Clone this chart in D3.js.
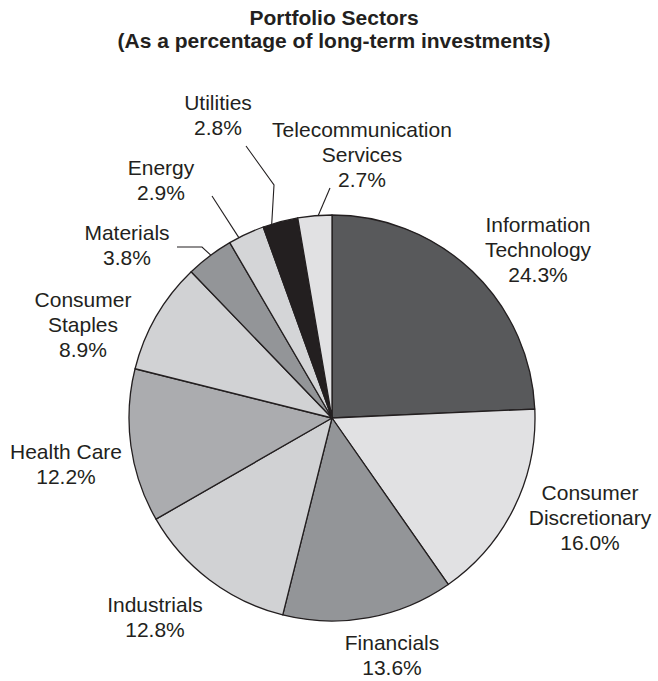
<!DOCTYPE html>
<html>
<head>
<meta charset="utf-8">
<script src="https://cdn.jsdelivr.net/npm/d3@7"></script>
<style>
  html, body { margin: 0; padding: 0; background: #fff; }
  svg { display: block; }
  text { font-family: "Liberation Sans", Arial, Helvetica, sans-serif; fill: #231f20; }
</style>
</head>
<body>
<svg id="chart" width="658" height="681"></svg>
<script>
// ---- Data ----
const sectors = ["Information Technology", "Consumer Discretionary", "Financials", "Industrials",
  "Health Care", "Consumer Staples", "Materials", "Energy", "Utilities", "Telecommunication Services"];
const percentages = [24.3, 16.0, 13.6, 12.8, 12.2, 8.9, 3.8, 2.9, 2.8, 2.7];
const labelLines = [
  ["Information", "Technology"],
  ["Consumer", "Discretionary"],
  ["Financials"],
  ["Industrials"],
  ["Health Care"],
  ["Consumer", "Staples"],
  ["Materials"],
  ["Energy"],
  ["Utilities"],
  ["Telecommunication", "Services"]
];
const titleLines = ["Portfolio Sectors", "(As a percentage of long-term investments)"];

// ---- Styles / layout ----
const fills = ["#58595b", "#e1e1e3", "#939598", "#d1d2d4", "#abacaf",
               "#d1d2d4", "#939598", "#d4d5d7", "#231f20", "#e1e1e3"];
const cx = 332, cy = 418, radius = 203;
const lineH = 25;
// label anchor: centre x, baseline of first line
const labelPos = [
  [538, 232], [590, 500], [392, 650], [155, 612], [66, 459],
  [83, 307], [127, 240], [161, 175], [218, 110], [362, 137]
];
// leader lines: fraction along slice where line meets the rim, then further points
const leaders = {
  6: { frac: 0.53, pts: [[202, 247], [177, 247]] },
  7: { frac: 0.28, pts: [[212, 196]] },
  8: { frac: 0.25, pts: [[274, 185], [246, 146]] },
  9: { frac: 0.6,  pts: [[330, 188]] }
};

const data = sectors.map((s, i) => ({ name: s, value: percentages[i], idx: i }));
const svg = d3.select("#chart");

// Title
svg.append("g").selectAll("text").data(titleLines).join("text")
  .attr("x", 334)
  .attr("y", (d, i) => 25 + i * 23)
  .attr("text-anchor", "middle")
  .attr("font-size", "21px")
  .attr("font-weight", "bold")
  .text(d => d);

const pie = d3.pie().value(d => d.value).sort(null).startAngle(0).endAngle(2 * Math.PI);
const arcs = pie(data);
const arc = d3.arc().innerRadius(0).outerRadius(radius);

const g = svg.append("g").attr("transform", `translate(${cx},${cy})`);
g.selectAll("path").data(arcs).join("path")
  .attr("d", arc)
  .attr("fill", d => fills[d.data.idx])
  .attr("stroke", "#231f20")
  .attr("stroke-width", 1.3)
  .attr("stroke-linejoin", "round");

// Leader lines
const lineGen = d3.line();
arcs.forEach(a => {
  const L = leaders[a.data.idx];
  if (!L) return;
  const ang = a.startAngle + L.frac * (a.endAngle - a.startAngle);
  const start = [cx + radius * Math.sin(ang), cy - radius * Math.cos(ang)];
  svg.append("path")
    .attr("d", lineGen([start, ...L.pts]))
    .attr("fill", "none")
    .attr("stroke", "#231f20")
    .attr("stroke-width", 1.1);
});

// Labels
const lg = svg.append("g");
data.forEach((d, i) => {
  const lines = labelLines[i].concat([d.value.toFixed(1) + "%"]);
  const [x, y] = labelPos[i];
  const t = lg.append("text")
    .attr("x", x).attr("y", y)
    .attr("text-anchor", "middle")
    .attr("font-size", "21px");
  lines.forEach((ln, k) => {
    t.append("tspan").attr("x", x).attr("y", y + k * lineH).text(ln);
  });
});
</script>
</body>
</html>
